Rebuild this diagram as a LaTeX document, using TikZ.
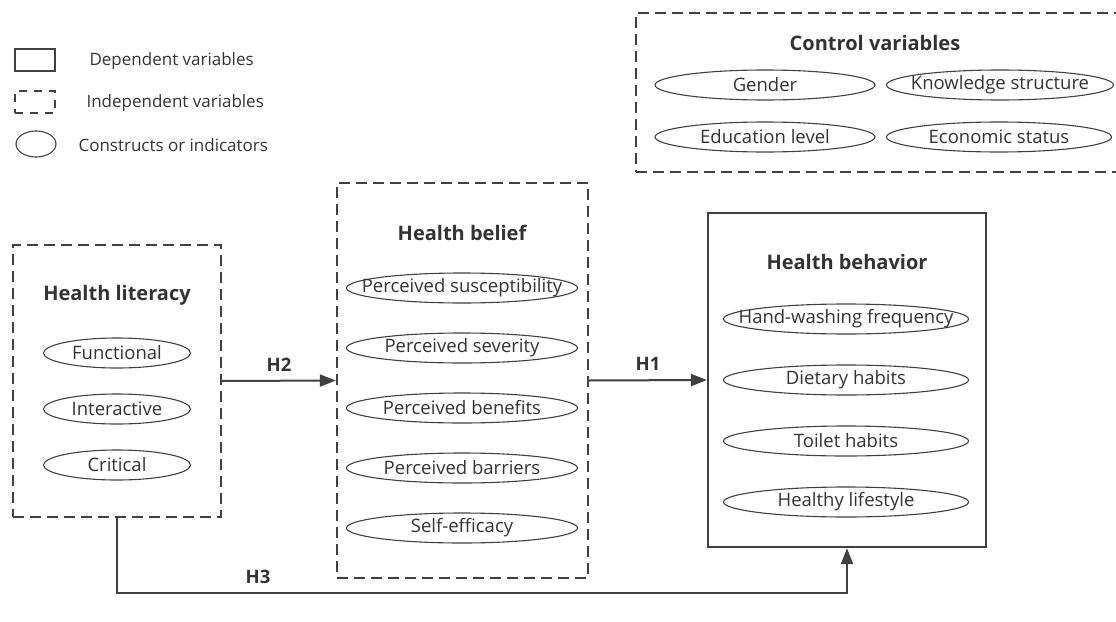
\documentclass[tikz,border=0pt]{standalone}
\usepackage{fontspec}
\setmainfont{Open Sans}
\usetikzlibrary{shapes.geometric, arrows.meta}
\definecolor{LineGray}{RGB}{64, 64, 64}
\definecolor{TextGray}{RGB}{51, 51, 51}

\begin{document}
\begin{tikzpicture}[x=1pt, y=-1pt,
                indep/.style={draw=LineGray, line width=2.3pt, dash pattern=on 11pt off 6pt},
                dep/.style={draw=LineGray, line width=2.3pt},
                ind/.style={ellipse, draw=LineGray, line width=1.1pt, minimum height=30pt, inner ysep=0pt, inner xsep=-80pt,
                            text=TextGray, font=\fontsize{18.5}{20}\selectfont},
                ttl/.style={text=TextGray, font=\fontsize{20}{22}\selectfont\bfseries},
                legtxt/.style={anchor=west, text=TextGray, font=\fontsize{17}{19}\selectfont},
                hyp/.style={draw=LineGray, line width=2pt, -{Triangle[length=16pt, width=12pt]}},
                hyplbl/.style={text=TextGray, font=\fontsize{18.5}{20}\selectfont\bfseries}
            ]
                \useasboundingbox (0,0) rectangle (1116,621);

                % Legend
                \node[dep, minimum width=40, minimum height=22] (legdep) at (35,60) {};
                \node[legtxt] (legdeptxt) at (86,61) {Dependent variables};
                \node[indep, dash pattern=on 8pt off 7pt, minimum width=40, minimum height=22] (legind) at (35,102) {};
                \node[legtxt] (legindtxt) at (83,103) {Independent variables};
                \node[ellipse, draw=LineGray, line width=1.1pt, minimum width=40, minimum height=26, inner sep=0pt] (legell) at (36,144) {};
                \node[legtxt] (legelltxt) at (75,145) {Constructs or indicators};

                % Control variables
                \node[indep, minimum width=488, minimum height=159] (ctrlbox) at (880,92.5) {};
                \node[ttl] (ctrl) at (875,43) {Control variables};
                \node[ind, minimum width=220] (gender) at (765,85) {Gender};
                \node[ind, minimum width=227] (knowl) at (1000,85) {Knowledge structure};
                \node[ind, minimum width=220] (edu) at (765,137) {Education level};
                \node[ind, minimum width=225] (econ) at (999,137) {Economic status};

                % Health literacy
                \node[indep, minimum width=208, minimum height=272] (litbox) at (117,381) {};
                \node[ttl] (lit) at (117,295) {Health literacy};
                \node[ind, minimum width=147] (func) at (117,353) {Functional};
                \node[ind, minimum width=147] (inter) at (117,409) {Interactive};
                \node[ind, minimum width=147] (crit) at (117,465) {Critical};

                % Health belief
                \node[indep, minimum width=251, minimum height=395] (belbox) at (462.5,380.5) {};
                \node[ttl] (bel) at (462,233) {Health belief};
                \node[ind, minimum width=231] (susc) at (462,288) {Perceived susceptibility};
                \node[ind, minimum width=231] (sev) at (462,348) {Perceived severity};
                \node[ind, minimum width=231] (bene) at (462,408) {Perceived benefits};
                \node[ind, minimum width=231] (barr) at (462,468) {Perceived barriers};
                \node[ind, minimum width=231] (eff) at (462,528) {Self-efficacy};

                % Health behavior
                \node[dep, minimum width=278, minimum height=334] (behbox) at (847,380) {};
                \node[ttl] (beh) at (847,262) {Health behavior};
                \node[ind, minimum width=245] (hand) at (846,319) {Hand-washing frequency};
                \node[ind, minimum width=245] (diet) at (846,380) {Dietary habits};
                \node[ind, minimum width=245] (toil) at (846,441) {Toilet habits};
                \node[ind, minimum width=245] (life) at (846,502) {Healthy lifestyle};

                % Hypotheses
                \draw[hyp] (litbox.east) -- node[hyplbl, above=5pt] {H2} (belbox.west);
                \draw[hyp] (belbox.east) -- node[hyplbl, above=5pt] {H1} (behbox.west);
                \draw[hyp] (litbox.south) -- ++(0,75) -| (behbox.south);
                \node[hyplbl] (h3) at (258,577) {H3};
            \end{tikzpicture}
\end{document}
